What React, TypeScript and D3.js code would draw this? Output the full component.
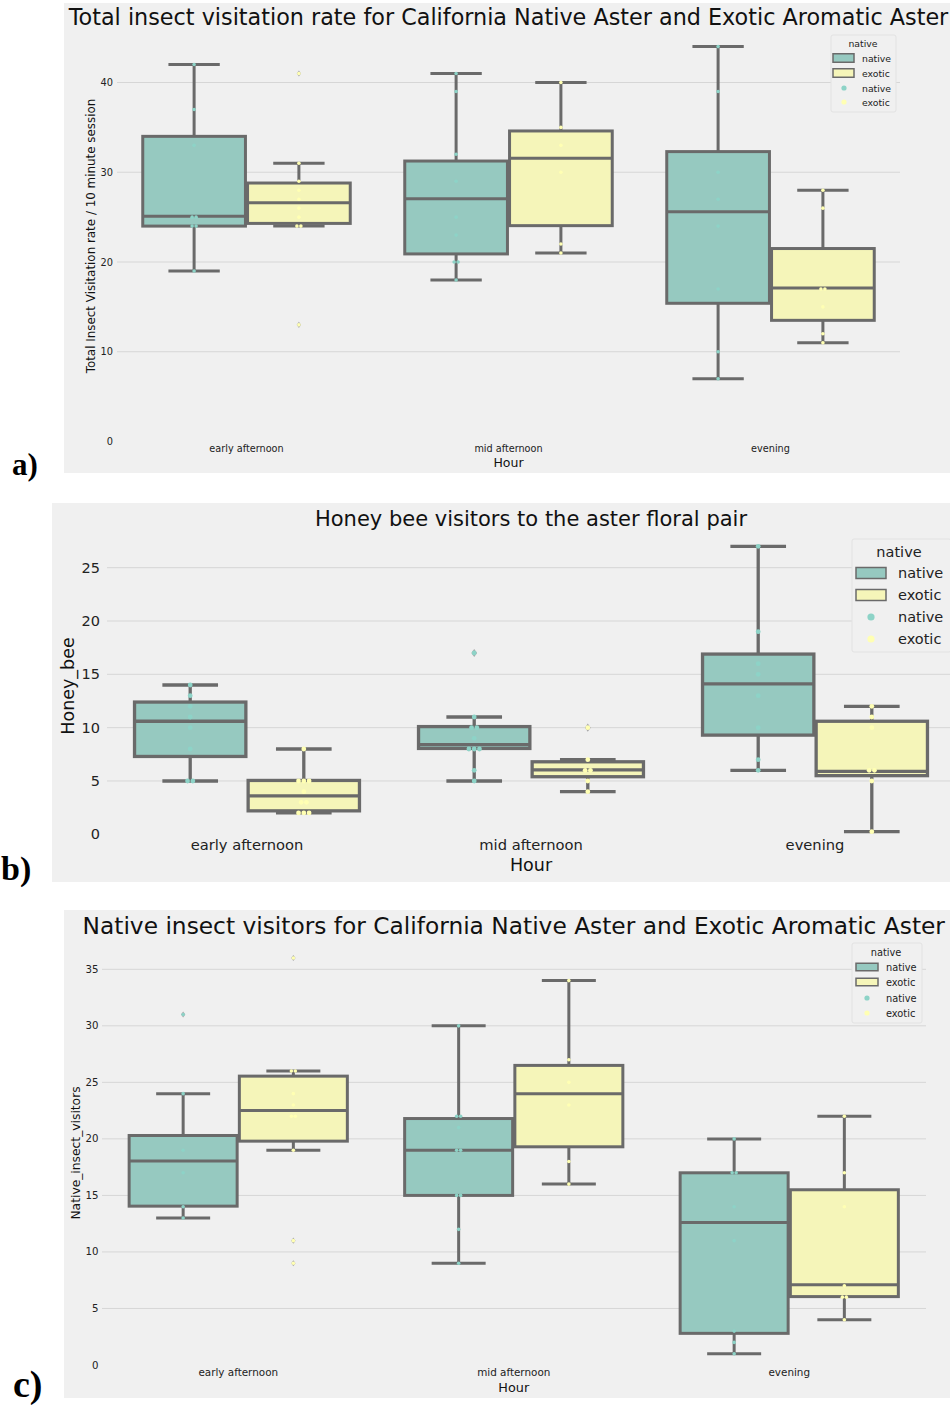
import React from 'react';
import * as d3 from 'd3';

const hours = ['early afternoon', 'mid afternoon', 'evening'];
const groups = ['native', 'exotic'];

// box stats per hour: [whisker low, q1, median, q3, whisker high]
const totalNativeBox = [[19, 24, 25.1, 34, 42], [18, 20.9, 27.05, 31.25, 41], [7, 15.4, 25.6, 32.3, 44]];
const totalExoticBox = [[24, 24.3, 26.6, 28.8, 31], [21, 24.05, 31.55, 34.6, 40], [11, 13.5, 17.1, 21.5, 28]];
const totalNativeFliers = [[], [], []];
const totalExoticFliers = [[41, 13], [], []];
const totalNativePts = [[42, 37, 33, 25, 25, 24, 24, 19], [41, 39, 32, 29, 25, 23, 20, 20, 18], [44, 39, 30, 27, 24, 17, 10, 7]];
const totalExoticPts = [[41, 31, 29, 28, 27, 26, 25, 24, 24, 13], [40, 35, 33, 30, 22, 21], [28, 26, 17, 17, 15, 12, 11]];

const beeNativeBox = [[5, 7.3, 10.6, 12.4, 14], [5, 8.05, 8.4, 10.1, 11], [6, 9.3, 14.1, 16.9, 27]];
const beeExoticBox = [[2, 2.2, 3.6, 5.05, 8], [4, 5.4, 6.05, 6.8, 7], [0.25, 5.5, 5.9, 10.6, 12]];
const beeNativeFliers = [[], [17], []];
const beeExoticFliers = [[], [10], []];
const beeNativePts = [[14, 13, 12, 11, 10, 8, 5, 5], [17, 11, 10, 10, 9, 8, 8, 8, 6, 5], [27, 19, 16, 15, 13, 10, 7, 6]];
const beeExoticPts = [[8, 5, 5, 5, 4, 3, 3, 2, 2, 2], [10, 7, 6, 6, 5, 4], [12, 11, 10, 6, 6, 5, 0.25]];

const visNativeBox = [[13, 14.05, 18.05, 20.3, 24], [9, 15, 19, 21.8, 30], [1, 2.8, 12.6, 17, 20]];
const visExoticBox = [[19, 19.8, 22.5, 25.55, 26], [16, 19.3, 24, 26.5, 34], [4, 6.05, 7.1, 15.5, 22]];
const visNativeFliers = [[31], [], []];
const visExoticFliers = [[36, 11, 9], [], []];
const visNativePts = [[31, 24, 19, 17, 14, 13], [30, 22, 22, 21, 19, 19, 15, 15, 12, 9], [20, 17, 17, 14, 11, 3, 2, 1]];
const visExoticPts = [[36, 26, 26, 24, 23, 22, 22, 19, 11, 9], [34, 27, 25, 23, 18, 16], [22, 17, 14, 7, 6, 6, 4]];

const dotColors = ['#8dd3c7', '#ffffb3'];
const boxColors = ['#96c9c0', '#f5f5b9'];
const lineColor = '#6a6a6a';
const bg = '#f0f0f0';
const font = '"DejaVu Sans", Verdana, sans-serif';

type Panel = {
  bgX: number; bgY: number; bgH: number;
  xRange: [number, number];
  y0: number; yRef: number; yRefVal: number; ticks: number[];
  gridX: [number, number];
  tickFont: number; xTickFont: number; tickRight: number; xTickY: number;
  title: string; titleY: number; titleFont: number;
  ylabel: string; ylabelX: number; ylabelY: number; ylabelFont: number;
  hourY: number; hourFont: number;
  lineW: number; dotR: number;
  legend: { x: number; y: number; w: number; h: number; titleX: number; titleY: number; rows: number[]; patchX: number; patchW: number; patchH: number; dotX: number; dotR: number; textX: number; font: number };
  label: string; labelX: number; labelY: number; labelFont: number;
  boxes: number[][][]; fliers: number[][][]; pts: number[][][];
};

const panels: Panel[] = [
  {
    bgX: 64, bgY: 3, bgH: 470,
    xRange: [115.5, 901.5],
    y0: 441.5, yRef: 82.5, yRefVal: 40, ticks: [0, 10, 20, 30, 40],
    gridX: [117, 900],
    tickFont: 9.8, xTickFont: 9.7, tickRight: 113, xTickY: 448,
    title: 'Total insect visitation rate for California Native Aster and Exotic Aromatic Aster', titleY: 17, titleFont: 22.3,
    ylabel: 'Total Insect Visitation rate / 10 minute session', ylabelX: 91, ylabelY: 236, ylabelFont: 11.9,
    hourY: 462, hourFont: 12.5,
    lineW: 3, dotR: 1.8,
    legend: { x: 831, y: 35, w: 65, h: 77, titleX: 863, titleY: 43, rows: [58, 73, 88, 102], patchX: 833, patchW: 21, patchH: 8.5, dotX: 844, dotR: 2.6, textX: 862, font: 9.3 },
    label: 'a)', labelX: 12, labelY: 475, labelFont: 31,
    boxes: [totalNativeBox, totalExoticBox], fliers: [totalNativeFliers, totalExoticFliers], pts: [totalNativePts, totalExoticPts],
  },
  {
    bgX: 52, bgY: 503, bgH: 379,
    xRange: [105, 957],
    y0: 834.3, yRef: 567.7, yRefVal: 25, ticks: [0, 5, 10, 15, 20, 25],
    gridX: [107, 950],
    tickFont: 14.5, xTickFont: 14.7, tickRight: 100, xTickY: 844,
    title: 'Honey bee visitors to the aster floral pair', titleY: 519, titleFont: 21,
    ylabel: 'Honey_bee', ylabelX: 68, ylabelY: 686, ylabelFont: 17.5,
    hourY: 865, hourFont: 17.5,
    lineW: 3.3, dotR: 2.4,
    legend: { x: 852, y: 539, w: 99, h: 113, titleX: 899, titleY: 552, rows: [573, 595, 617, 639], patchX: 856, patchW: 30, patchH: 11, dotX: 871, dotR: 3.6, textX: 898, font: 14.5 },
    label: 'b)', labelX: 1, labelY: 880, labelFont: 34,
    boxes: [beeNativeBox, beeExoticBox], fliers: [beeNativeFliers, beeExoticFliers], pts: [beeNativePts, beeExoticPts],
  },
  {
    bgX: 64, bgY: 910, bgH: 488,
    xRange: [100.5, 927],
    y0: 1365, yRef: 969.3, yRefVal: 35, ticks: [0, 5, 10, 15, 20, 25, 30, 35],
    gridX: [102, 926],
    tickFont: 10.2, xTickFont: 10.4, tickRight: 98.5, xTickY: 1372,
    title: 'Native insect visitors for California Native Aster and Exotic Aromatic Aster', titleY: 925, titleFont: 23.3,
    ylabel: 'Native_insect_visitors', ylabelX: 76, ylabelY: 1153, ylabelFont: 12.3,
    hourY: 1387, hourFont: 12.8,
    lineW: 3, dotR: 1.8,
    legend: { x: 852, y: 943, w: 70, h: 80, titleX: 886, titleY: 952, rows: [967, 982, 998, 1013], patchX: 856, patchW: 22, patchH: 7.5, dotX: 867, dotR: 2.6, textX: 886, font: 9.8 },
    label: 'c)', labelX: 13, labelY: 1397, labelFont: 38,
    boxes: [visNativeBox, visExoticBox], fliers: [visNativeFliers, visExoticFliers], pts: [visNativePts, visExoticPts],
  },
];

function spread(vals: number[], step: number) {
  // side by side offsets for repeated values
  const seen = d3.rollup(vals, (v) => v.length, (d) => d);
  const count = new Map<number, number>();
  return vals.map((v) => {
    const n = seen.get(v) || 1;
    const k = count.get(v) || 0;
    count.set(v, k + 1);
    return { v, dx: (k - (n - 1) / 2) * step };
  });
}

function BoxPanel({ p }: { p: Panel }) {
  const x = d3.scaleBand().domain(hours).range(p.xRange).padding(0);
  const y = d3.scaleLinear().domain([0, p.yRefVal]).range([p.y0, p.yRef]);
  const bw = x.bandwidth();
  const boxW = bw * 0.4 * 0.98;
  const off = (gi: number) => (gi === 0 ? -bw * 0.2 : bw * 0.2);
  const mid = (p.xRange[0] + p.xRange[1]) / 2;
  const lg = p.legend;

  return (
    <g fontFamily={font}>
      <rect x={p.bgX} y={p.bgY} width={950 - p.bgX} height={p.bgH} fill={bg} />
      {p.ticks.filter((t) => t > 0).map((t) => (
        <line key={t} x1={p.gridX[0]} x2={p.gridX[1]} y1={y(t)} y2={y(t)} stroke="#d6d6d6" strokeWidth={1} />
      ))}
      {p.ticks.map((t) => (
        <text key={'t' + t} x={p.tickRight} y={y(t)} textAnchor="end" dominantBaseline="central" fontSize={p.tickFont} fill="#222">{t}</text>
      ))}
      {hours.map((h) => (
        <text key={h} x={(x(h) as number) + bw / 2} y={p.xTickY} textAnchor="middle" dominantBaseline="central" fontSize={p.xTickFont} fill="#222">{h}</text>
      ))}
      <text x={mid} y={p.hourY} textAnchor="middle" dominantBaseline="central" fontSize={p.hourFont} fill="#111">Hour</text>
      <text transform={`translate(${p.ylabelX},${p.ylabelY}) rotate(-90)`} textAnchor="middle" dominantBaseline="central" fontSize={p.ylabelFont} fill="#111">{p.ylabel}</text>
      <text x={mid} y={p.titleY} textAnchor="middle" dominantBaseline="central" fontSize={p.titleFont} fill="#111">{p.title}</text>

      {groups.map((g, gi) =>
        hours.map((h, hi) => {
          const [lo, q1, med, q3, hi2] = p.boxes[gi][hi];
          const cx = (x(h) as number) + bw / 2 + off(gi);
          const cap = boxW / 4;
          return (
            <g key={g + h} stroke={lineColor} strokeWidth={p.lineW}>
              <line x1={cx} x2={cx} y1={y(q3)} y2={y(hi2)} />
              <line x1={cx} x2={cx} y1={y(q1)} y2={y(lo)} />
              <line x1={cx - cap} x2={cx + cap} y1={y(hi2)} y2={y(hi2)} />
              <line x1={cx - cap} x2={cx + cap} y1={y(lo)} y2={y(lo)} />
              <rect x={cx - boxW / 2} y={y(q3)} width={boxW} height={y(q1) - y(q3)} fill={boxColors[gi]} />
              <line x1={cx - boxW / 2} x2={cx + boxW / 2} y1={y(med)} y2={y(med)} />
            </g>
          );
        })
      )}

      {groups.map((g, gi) =>
        hours.map((h, hi) => {
          const cx = (x(h) as number) + bw / 2 + off(gi);
          const r = p.dotR;
          return (
            <g key={'f' + g + h}>
              {p.fliers[gi][hi].map((v, k) => (
                <path key={k} d={`M${cx},${y(v) - r * 1.7}L${cx + r * 1.2},${y(v)}L${cx},${y(v) + r * 1.7}L${cx - r * 1.2},${y(v)}Z`} fill={lineColor} fillOpacity={0.55} />
              ))}
              {spread(p.pts[gi][hi], r * 2.2).map((d, k) => (
                <circle key={k} cx={cx + d.dx} cy={y(d.v)} r={r} fill={dotColors[gi]} />
              ))}
            </g>
          );
        })
      )}

      <g>
        <rect x={lg.x} y={lg.y} width={lg.w} height={lg.h} rx={2} fill={bg} stroke="#e2e2e2" strokeWidth={1} />
        <text x={lg.titleX} y={lg.titleY} textAnchor="middle" dominantBaseline="central" fontSize={lg.font} fill="#222">native</text>
        {groups.map((g, gi) => (
          <g key={'lp' + g}>
            <rect x={lg.patchX} y={lg.rows[gi] - lg.patchH / 2} width={lg.patchW} height={lg.patchH} fill={boxColors[gi]} stroke={lineColor} strokeWidth={1.5} />
            <text x={lg.textX} y={lg.rows[gi]} dominantBaseline="central" fontSize={lg.font} fill="#222">{g}</text>
          </g>
        ))}
        {groups.map((g, gi) => (
          <g key={'ld' + g}>
            <circle cx={lg.dotX} cy={lg.rows[gi + 2]} r={lg.dotR} fill={dotColors[gi]} />
            <text x={lg.textX} y={lg.rows[gi + 2]} dominantBaseline="central" fontSize={lg.font} fill="#222">{g}</text>
          </g>
        ))}
      </g>

      <text x={p.labelX} y={p.labelY} fontFamily='"Liberation Serif", "Times New Roman", serif' fontWeight="bold" fontSize={p.labelFont} fill="#000">{p.label}</text>
    </g>
  );
}

export default function App() {
  return (
    <svg width={950} height={1405} style={{ position: 'absolute', left: 0, top: 0, background: '#fff' }}>
      {panels.map((p) => (
        <BoxPanel key={p.label} p={p} />
      ))}
    </svg>
  );
}
